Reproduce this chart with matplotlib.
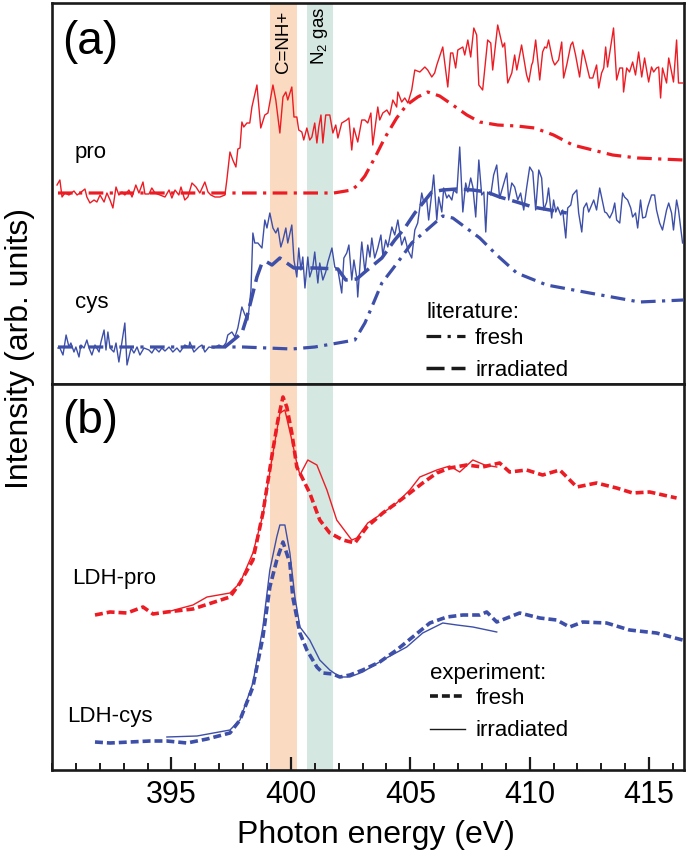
import numpy as np
import matplotlib
matplotlib.use("Agg")
import matplotlib.pyplot as plt
from matplotlib.lines import Line2D
from matplotlib.ticker import MultipleLocator

plt.rcParams['font.family'] = ['Liberation Sans', 'DejaVu Sans']
plt.rcParams['mathtext.fontset'] = 'custom'
plt.rcParams['mathtext.rm'] = 'Liberation Sans'
plt.rcParams['mathtext.it'] = 'Liberation Sans:italic'

RED = '#EC1C24'
BLUE = '#3D4FA8'
DARK = '#1a1a1a'

# ---------------- panel (a): experimental (noisy) spectra ----------------
pro_exp = [(390.21,199),(390.33,204),(390.42,187),(390.54,191),(390.71,189),(390.92,193),(391.05,189),(391.17,191),
 (391.38,195),(391.46,187),(391.59,181),(391.76,184),(391.88,182),(392.01,189),(392.18,182),(392.30,191),(392.43,184),
 (392.55,176),(392.68,197),(392.80,189),(392.93,192),(393.05,189),(393.22,194),(393.35,187),(393.51,199),(393.64,191),
 (393.81,202),(393.89,190),(394.06,190),(394.18,196),(394.31,191),(394.52,189),(394.73,187),(394.90,194),(395.02,186),
 (395.15,194),(395.31,189),(395.40,197),(395.56,184),(395.69,187),(395.86,201),(396.03,197),(396.19,191),(396.40,202),
 (396.53,192),(396.65,189),(396.82,187),(397.03,187),(397.24,189),
 (397.32,204),(397.45,232),(397.57,224),(397.70,217),(397.78,235),(397.87,236),(397.95,262),(398.03,257),(398.16,261),
 (398.28,261),(398.37,277),(398.58,299),(398.74,256),(398.91,269),(399.04,271),(399.25,299),(399.37,284),(399.54,251),
 (399.67,287),(399.79,292),(399.87,284),(400.04,297),(400.13,267),(400.25,267),(400.33,254),(400.46,252),(400.54,244),
 (400.67,256),(400.79,244),(400.88,247),(401.00,261),(401.09,241),(401.17,257),(401.26,269),(401.34,241),(401.46,269),
 (401.63,269),(401.76,251),(401.88,259),(401.97,246),(402.13,261),(402.34,264),(402.43,266),(402.55,234),(402.64,256),
 (402.80,242),(402.97,264),(403.10,264),(403.22,261),(403.35,271),(403.43,239),(403.64,277),(403.72,264),(403.85,271),
 (404.02,274),(404.14,269),(404.27,284),(404.43,277),(404.48,292),(404.64,282),(404.77,286),(404.90,281),(405.06,294),
 (405.19,314),(405.40,312),(405.61,317),(405.73,314),(405.90,307),(406.02,311),(406.11,319),(406.36,337),(406.57,297),
 (406.69,331),(406.78,331),(406.90,316),(406.99,334),(407.20,337),(407.28,329),(407.41,344),(407.53,327),(407.66,356),
 (407.78,349),(407.87,299),(408.03,294),(408.24,344),(408.37,341),(408.45,314),(408.66,359),(408.87,337),(408.95,341),
 (409.08,301),(409.25,311),(409.37,329),(409.46,314),(409.66,339),(409.87,309),(409.96,302),(410.08,319),(410.13,322),
 (410.25,344),(410.42,304),(410.54,332),(410.63,337),(410.71,336),(410.79,344),(410.96,324),(411.05,319),(411.21,324),
 (411.34,342),(411.42,306),(411.55,319),(411.72,339),(411.80,342),(411.92,329),(412.09,307),(412.22,334),(412.30,327),
 (412.51,306),(412.64,306),(412.80,319),(412.89,296),(413.01,311),(413.10,316),(413.18,337),(413.26,317),(413.51,356),
 (413.64,304),(413.77,316),(413.89,316),(413.93,292),(414.06,316),(414.18,312),(414.31,322),(414.43,309),(414.56,332),
 (414.69,307),(414.81,326),(414.98,302),(415.10,317),(415.19,312),(415.31,316),(415.40,317),(415.48,286),(415.56,316),
 (415.73,301),(415.82,326),(415.94,312),(416.02,302),(416.15,344),(416.23,301),(416.40,301)]

cys_exp = [(390.25,36),(390.33,36),(390.46,29),(390.59,49),(390.71,37),(390.79,41),(390.92,32),(391.00,37),(391.13,27),
 (391.21,39),(391.34,36),(391.46,44),(391.55,36),(391.67,29),(391.80,39),(391.97,32),(392.05,42),(392.18,54),(392.26,34),
 (392.34,52),(392.43,36),(392.59,32),(392.68,41),(392.80,22),(392.93,42),(393.05,61),(393.14,19),(393.31,36),(393.43,31),
 (393.56,37),(393.68,29),(393.85,36),(394.06,34),(394.18,31),(394.31,36),(394.48,32),(394.60,36),(394.73,33),(394.90,37),
 (395.06,32),(395.23,36),(395.36,32),(395.56,39),(395.73,37),(395.77,42),(395.94,32),(396.15,37),(396.28,39),(396.40,32),
 (396.57,37),(396.78,36),(396.99,39),(397.15,37),(397.28,41),(397.36,49),(397.53,52),(397.66,47),(397.78,56),(397.95,77),
 (398.08,69),(398.20,64),(398.33,94),(398.41,151),(398.49,141),(398.62,141),(398.79,136),(398.91,164),(399.00,156),
 (399.12,171),(399.25,156),(399.37,151),(399.46,156),(399.58,137),(399.67,144),(399.79,156),(399.87,141),(400.04,159),
 (400.13,124),(400.25,107),(400.33,136),(400.42,114),(400.50,127),(400.59,96),(400.71,127),(400.79,107),(400.92,117),
 (401.00,132),(401.13,101),(401.21,121),(401.34,104),(401.46,112),(401.55,122),(401.72,136),(401.84,117),(401.97,114),
 (402.13,91),(402.22,126),(402.34,131),(402.43,139),(402.55,104),(402.64,124),(402.76,106),(402.80,87),(402.93,131),
 (402.97,142),(403.10,112),(403.22,139),(403.31,127),(403.39,146),(403.51,126),(403.64,136),(403.77,149),(403.85,129),
 (403.97,144),(404.06,137),(404.23,157),(404.35,149),(404.48,164),(404.64,139),(404.77,147),(404.90,134),(405.06,126),
 (405.19,154),(405.31,161),(405.48,191),(405.56,182),(405.69,184),(405.77,164),(405.90,191),(405.98,209),(406.11,164),
 (406.19,187),(406.32,172),(406.40,196),(406.53,186),(406.61,189),(406.74,184),(406.82,194),(406.95,191),(407.07,237),
 (407.20,172),(407.32,201),(407.41,192),(407.53,206),(407.62,197),(407.74,167),(407.87,224),(407.99,189),(408.08,192),
 (408.16,152),(408.24,192),(408.37,189),(408.49,209),(408.62,219),(408.74,186),(408.87,197),(409.04,211),(409.12,184),
 (409.25,201),(409.37,197),(409.50,184),(409.62,191),(409.75,174),(409.87,196),(410.00,217),(410.13,212),(410.25,174),
 (410.38,214),(410.50,206),(410.59,174),(410.71,182),(410.79,196),(410.92,166),(411.00,184),(411.09,172),(411.17,177),
 (411.30,169),(411.38,174),(411.51,146),(411.59,176),(411.72,179),(411.80,189),(411.97,194),(412.05,171),(412.18,152),
 (412.26,176),(412.38,181),(412.47,172),(412.59,179),(412.68,184),(412.80,174),(412.93,196),(413.05,182),(413.14,172),
 (413.22,171),(413.35,166),(413.47,172),(413.56,181),(413.64,164),(413.77,161),(413.89,191),(413.97,187),(414.10,184),
 (414.23,176),(414.31,167),(414.43,171),(414.52,156),(414.64,184),(414.73,166),(414.85,167),(414.94,177),(415.10,189),
 (415.23,189),(415.31,174),(415.44,161),(415.56,154),(415.73,174),(415.82,181),(415.94,171),(416.02,154),(416.15,184),
 (416.23,174),(416.40,141)]

# ---------------- panel (a): literature spectra ----------------
pro_lit_fresh = [(390.25,191),(396.0,191),(400.0,191),(401.8,191),(402.55,194),(402.80,199),(403.10,208),(403.51,226),
 (403.93,246),(404.43,266),(404.85,279),(405.31,287),(405.73,292),(406.23,288),(406.78,279),(407.37,269),(407.91,262),
 (408.66,259),(409.46,258),(410.21,256),(411.0,249),(411.80,239),(412.64,234),(413.47,229),(414.52,226),(416.44,224)]

cys_lit_fresh = [(390.25,37),(395.0,37),(398.0,37),(400.04,35),(401.0,37),(401.97,41),(402.68,44),(403.10,61),
 (403.39,77),(403.81,101),(404.23,114),(404.64,127),(405.06,141),(405.69,154),(406.36,168),(406.78,166),(407.91,146),
 (408.62,129),(409.46,111),(410.71,99),(412.51,91),(414.60,82),(416.44,84)]

cys_lit_irr = [(397.24,37),(397.95,51),(398.16,67),(398.37,87),(398.58,107),(398.79,121),(399.00,122),(399.21,119),
 (399.54,126),(399.83,121),(400.13,116),(401.00,116),(401.97,115),(402.30,104),(402.76,105),(403.10,112),(403.81,126),
 (404.35,144),(404.77,156),(405.19,171),(405.90,192),(406.36,194),(406.95,195),(407.62,194),(408.20,192),(408.74,187),
 (409.46,182),(410.13,177),(410.84,174),(411.55,171)]

# ---------------- panel (b): LDH experiment ----------------
ldh_pro_fresh = [(391.80,155),(392.43,158),(393.14,157),(393.81,163),(394.23,156),(394.81,158),(395.90,161),(397.45,173),
 (397.87,187),(398.41,210),(398.83,257),(399.20,313),(399.46,350),(399.67,373),(399.83,363),(400.04,337),(400.25,303),
 (400.46,293),(400.79,277),(401.21,250),(401.63,237),(402.18,230),(402.68,227),(403.18,243),(403.85,257),(404.43,267),
 (404.98,277),(405.52,287),(406.11,297),(406.65,302),(407.36,305),(408.03,303),(408.74,307),(409.16,298),(409.87,300),
 (410.54,295),(411.26,300),(411.97,283),(412.80,287),(413.64,282),(414.31,277),(415.02,278),(416.15,272)]

ldh_pro_irr = [(394.81,158),(395.90,165),(396.49,173),(397.45,177),(397.87,187),(398.41,217),(398.83,255),(399.20,310),
 (399.54,357),(399.75,360),(400.04,330),(400.25,307),(400.38,295),(400.71,310),(401.09,305),(401.51,280),(401.92,250),
 (402.55,230),(402.76,232),(403.22,247),(403.85,257),(404.43,267),(404.98,280),(405.40,293),(406.11,300),(406.65,304),
 (407.07,298),(407.62,310),(408.12,305),(408.62,303)]

ldh_cys_fresh = [(391.80,28),(392.43,27),(394.10,29),(394.81,29),(395.65,27),(396.49,31),(397.45,37),(397.87,50),
 (398.41,83),(398.83,133),(399.12,183),(399.41,210),(399.67,228),(399.96,207),(400.08,173),(400.38,137),(400.67,120),
 (401.09,103),(401.34,97),(401.76,96),(402.05,93),(402.47,95),(403.01,100),(403.72,108),(404.43,120),(405.10,133),
 (405.82,147),(406.53,153),(407.20,155),(407.91,155),(408.20,158),(408.62,148),(409.58,157),(410.42,152),(411.13,150),
 (411.67,143),(412.22,148),(413.22,147),(414.18,140),(415.31,137),(416.40,130)]

ldh_cys_irr = [(394.81,33),(396.07,34),(397.45,40),(397.87,50),(398.41,87),(398.83,143),(399.12,200),(399.41,233),
 (399.54,245),(399.75,245),(399.96,217),(400.17,173),(400.38,143),(400.79,130),(401.21,110),(401.63,100),(402.05,93),
 (402.47,93),(403.01,98),(403.85,110),(404.85,123),(405.52,137),(406.36,147),(406.95,145),(407.62,143),(408.62,138)]

# highlighted energy bands (eV)
band_cnh = (399.12, 400.25)
band_n2 = (400.67, 401.76)

x_major_ticks = [395, 400, 405, 410, 415]
x_range = (390.0, 416.46)

def xy(series):
    a = np.array(series, dtype=float)
    return a[:, 0], a[:, 1]

DASHDOT = (0, (4.6, 2.0, 1.0, 2.0))
DASHED = (0, (5.2, 2.0))
SHORTDASH = (0, (2.2, 1.1))

fig = plt.figure(figsize=(6.88, 8.51), dpi=100)
ax_a = fig.add_axes([52/688, 1-384/851, 632/688, 381/851])
ax_b = fig.add_axes([52/688, 1-770/851, 632/688, 386/851])

for ax, ymax in ((ax_a, 381), (ax_b, 386)):
    ax.set_xlim(*x_range)
    ax.set_ylim(0, ymax)
    ax.axvspan(*band_cnh, color='#FADAC0', lw=0, zorder=0)
    ax.axvspan(*band_n2, color='#D5E7E1', lw=0, zorder=0)
    for s in ax.spines.values():
        s.set_linewidth(1.9)
        s.set_color(DARK)
    ax.set_yticks([])

# panel (a)
ax_a.set_xticks([])
ax_a.plot(*xy(pro_exp), color=RED, lw=1.0, zorder=3)
ax_a.plot(*xy(pro_lit_fresh), color=RED, lw=2.3, ls=DASHDOT, zorder=4)
ax_a.plot(*xy(cys_exp), color=BLUE, lw=1.0, zorder=3)
ax_a.plot(*xy(cys_lit_fresh), color=BLUE, lw=2.3, ls=DASHDOT, zorder=4)
ax_a.plot(*xy(cys_lit_irr), color=BLUE, lw=2.5, ls=DASHED, zorder=4)

ax_a.text(0.016, 0.898, '(a)', transform=ax_a.transAxes, fontsize=33, ha='left', va='center')
ax_a.text(390.96, 226, 'pro', fontsize=16, ha='left', va='baseline')
ax_a.text(390.96, 76, 'cys', fontsize=16, ha='left', va='baseline')
ax_a.text(np.mean(band_cnh), 373, 'C=NH+', rotation=90, fontsize=13.5, ha='center', va='top')
ax_a.text(np.mean(band_n2), 377, 'N$_2$ gas', rotation=90, fontsize=13.5, ha='center', va='top')

h_a = [Line2D([], [], color=DARK, lw=2.3, ls=DASHDOT),
       Line2D([], [], color=DARK, lw=2.5, ls=DASHED)]
leg_a = ax_a.legend(h_a, ['fresh', 'irradiated'], title='literature:', loc='upper left',
                    bbox_to_anchor=(0.592, 0.214), frameon=False, fontsize=16, title_fontsize=16,
                    alignment='left', handlelength=1.75, handletextpad=0.45, labelspacing=0.5,
                    borderpad=0, borderaxespad=0)
leg_a._legend_box.sep = 3

# panel (b)
ax_b.plot(*xy(ldh_pro_fresh), color=RED, lw=2.6, ls=SHORTDASH, zorder=4)
ax_b.plot(*xy(ldh_pro_irr), color=RED, lw=1.0, zorder=3)
ax_b.plot(*xy(ldh_cys_fresh), color=BLUE, lw=2.6, ls=SHORTDASH, zorder=4)
ax_b.plot(*xy(ldh_cys_irr), color=BLUE, lw=1.0, zorder=3)

ax_b.text(0.016, 0.905, '(b)', transform=ax_b.transAxes, fontsize=33, ha='left', va='center')
ax_b.text(390.84, 186, 'LDH-pro', fontsize=16, ha='left', va='baseline')
ax_b.text(390.63, 48, 'LDH-cys', fontsize=16, ha='left', va='baseline')

h_b = [Line2D([], [], color=DARK, lw=2.6, ls=SHORTDASH),
       Line2D([], [], color=DARK, lw=1.0)]
leg_b = ax_b.legend(h_b, ['fresh', 'irradiated'], title='experiment:', loc='upper left',
                    bbox_to_anchor=(0.598, 0.277), frameon=False, fontsize=16, title_fontsize=16,
                    alignment='left', handlelength=1.6, handletextpad=0.45, labelspacing=0.5,
                    borderpad=0, borderaxespad=0)
leg_b._legend_box.sep = 3

ax_b.set_xticks(x_major_ticks)
ax_b.xaxis.set_minor_locator(MultipleLocator(1))
ax_b.tick_params(axis='x', which='major', direction='in', length=9.5, width=1.6,
                 labelsize=22, pad=7, top=False, color=DARK)
ax_b.tick_params(axis='x', which='minor', direction='in', length=5, width=1.4, top=False, color=DARK)

fig.text(376/688, 1-843/851, 'Photon energy (eV)', fontsize=23, ha='center', va='baseline')
fig.text(20/688, 1-348/851, 'Intensity (arb. units)', fontsize=23, rotation=90, ha='center', va='center')

fig.savefig('out.png', dpi=100)
